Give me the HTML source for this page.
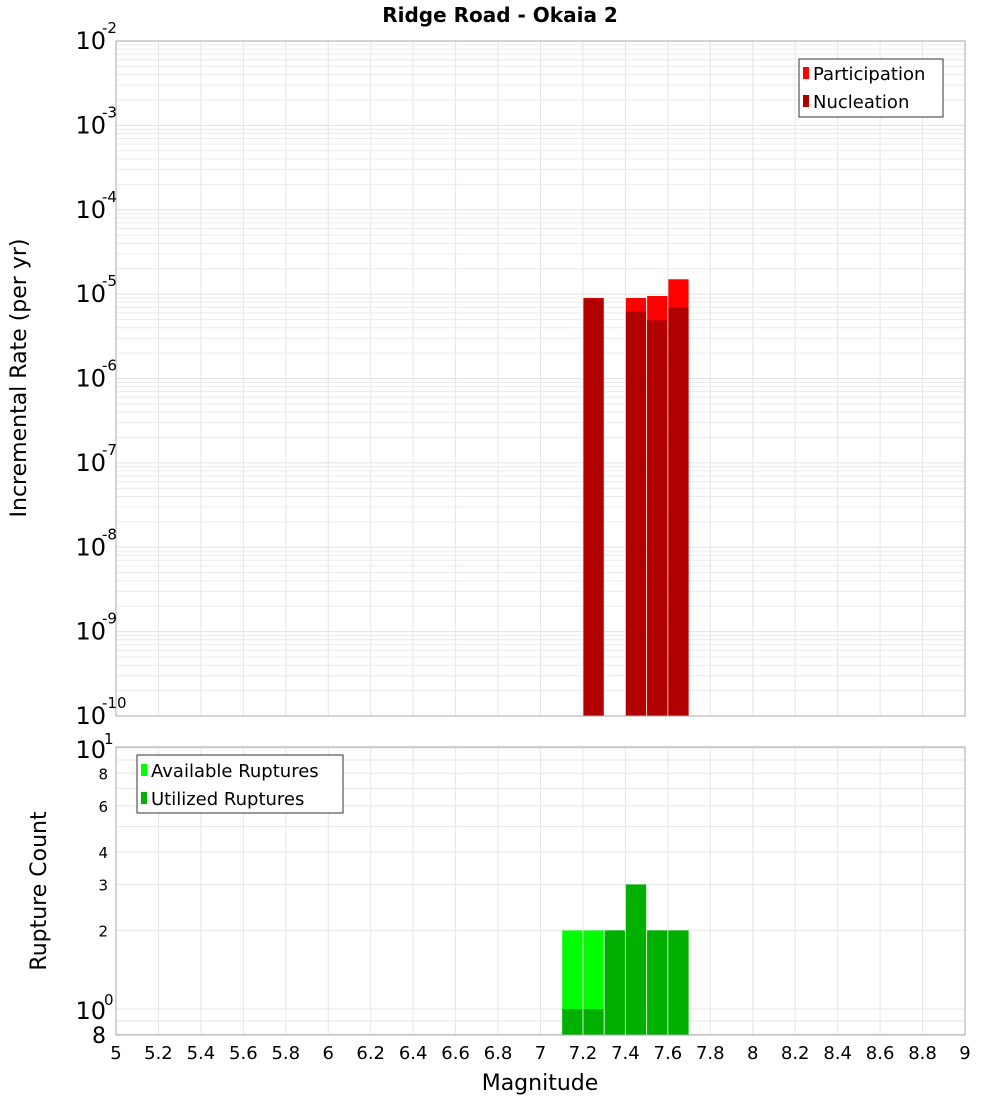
<!DOCTYPE html>
<html><head><meta charset="utf-8"><style>
body{margin:0;background:#fff;font-family:"DejaVu Sans","Liberation Sans",sans-serif;}
svg text{font-family:"DejaVu Sans","Liberation Sans",sans-serif;}
</style></head><body>
<svg id="c" width="1000" height="1100" xmlns="http://www.w3.org/2000/svg">
<rect width="1000" height="1100" fill="#fff"/>
<text x="500" y="22" text-anchor="middle" font-size="20" font-weight="bold">Ridge Road - Okaia 2</text>
<g id="gtop"></g><g id="gbot"></g>
<text transform="translate(26,378) rotate(-90)" text-anchor="middle" font-size="22">Incremental Rate (per yr)</text>
<text transform="translate(46,891) rotate(-90)" text-anchor="middle" font-size="22">Rupture Count</text>
<text x="540" y="1090" text-anchor="middle" font-size="22">Magnitude</text>
<g>
<rect x="799" y="59" width="144" height="58" fill="#fff" stroke="#333"/>
<rect x="803" y="67" width="6" height="12" fill="#ff0000"/>
<text x="813" y="80" font-size="18">Participation</text>
<rect x="803" y="95" width="6" height="12" fill="#b00000"/>
<text x="813" y="108" font-size="18">Nucleation</text>
</g>
<g>
<rect x="137" y="755" width="206" height="58" fill="#fff" stroke="#333"/>
<rect x="141" y="764" width="6" height="12" fill="#00ff00"/>
<text x="151" y="777" font-size="18">Available Ruptures</text>
<rect x="141" y="792" width="6" height="12" fill="#00b000"/>
<text x="151" y="805" font-size="18">Utilized Ruptures</text>
</g>
</svg>
<script>
const topMags=[7.25,7.45,7.55,7.65];
const participation=[9.0e-6,9.0e-6,9.5e-6,1.5e-5];
const nucleation=[8.9e-6,6.2e-6,4.9e-6,6.9e-6];
const botMags=[7.15,7.25,7.35,7.45,7.55,7.65];
const available=[2,2,2,3,2,2];
const utilized=[1,1,2,3,2,2];
const xTicks=[5,5.2,5.4,5.6,5.8,6,6.2,6.4,6.6,6.8,7,7.2,7.4,7.6,7.8,8,8.2,8.4,8.6,8.8,9];
const topExps=[-2,-3,-4,-5,-6,-7,-8,-9,-10];
const botTicks=[8,6,4,3,2];
const NS="http://www.w3.org/2000/svg";
const L=116,R=965,T1=41,B1=716,T2=747,B2=1035;
const xs=m=>L+(m-5)/4*(R-L);
const yT=v=>T1+(-2-Math.log10(v))/8*(B1-T1);
const D2=261,y0=1009;
const yB=v=>y0-Math.log10(v)*D2;
function el(p,t,a){const e=document.createElementNS(NS,t);for(const k in a)e.setAttribute(k,a[k]);p.appendChild(e);return e;}
const gTop=document.getElementById('gtop'),gBot=document.getElementById('gbot');
for(let e=-10;e<-2;e++)for(let k=1;k<10;k++){const v=k*Math.pow(10,e);const yy=yT(v);
 const g=el(gTop,'line',{x1:L,x2:R,y1:yy,y2:yy,stroke:k==1?'#e0e0e0':'#ececec','stroke-width':1});
 }
xTicks.forEach(t=>{const g=el(gTop,'line',{x1:xs(t),x2:xs(t),y1:T1,y2:B1,stroke:'#e6e6e6'});
 
 const g2=el(gBot,'line',{x1:xs(t),x2:xs(t),y1:T2,y2:B2,stroke:'#e6e6e6'});
 
 const tx=el(gBot,'text',{x:xs(t),y:1059,'text-anchor':'middle','font-size':18});tx.textContent=String(t);
 });
[0.8,0.9,1,2,3,4,5,6,7,8,9,10].forEach(v=>{const yy=yB(v);if(yy>B2)return;
 const g=el(gBot,'line',{x1:L,x2:R,y1:yy,y2:yy,stroke:'#e6e6e6'});
 });
const w=(R-L)/40;
topMags.forEach((m,i)=>{const x0=xs(m-0.05)+0.5;
 const p=el(gTop,'rect',{x:x0,y:yT(participation[i]),width:w-1,height:B1-yT(participation[i]),fill:'#ff0000'});
 
 const n=el(gTop,'rect',{x:x0,y:yT(nucleation[i]),width:w-1,height:B1-yT(nucleation[i]),fill:'#b00000'});
 });
botMags.forEach((m,i)=>{const x0=xs(m-0.05)+0.5;
 const a=el(gBot,'rect',{x:x0,y:yB(available[i]),width:w-1,height:B2-yB(available[i]),fill:'#00ff00'});
 
 const u=el(gBot,'rect',{x:x0,y:yB(utilized[i]),width:w-1,height:B2-yB(utilized[i]),fill:'#00b000'});
 });
const f1=el(gTop,'rect',{x:L,y:T1,width:R-L,height:B1-T1,fill:'none',stroke:'#aaa'});

const f2=el(gBot,'rect',{x:L,y:T2,width:R-L,height:B2-T2,fill:'none',stroke:'#aaa'});

topExps.forEach(e=>{const yy=yT(Math.pow(10,e));
 const t=el(gTop,'text',{x:106,y:yy+8,'text-anchor':'end','font-size':24});t.textContent='10';
 
 const s=el(gTop,'text',{x:102,y:yy-8,'font-size':15});s.textContent=String(e);
 });
[[10,'1'],[1,'0']].forEach(([v,ex])=>{const yy=yB(v);
 const t=el(gBot,'text',{x:106,y:yy+10,'text-anchor':'end','font-size':24});t.textContent='10';
 
 const s=el(gBot,'text',{x:104,y:yy-4,'font-size':15});s.textContent=ex;
 });
botTicks.forEach(v=>{const t=el(gBot,'text',{x:108,y:yB(v)+6,'text-anchor':'end','font-size':15});t.textContent=String(v);
 });
const t8=el(gBot,'text',{x:106,y:1043,'text-anchor':'end','font-size':22});t8.textContent='8';

</script>
</body></html>
